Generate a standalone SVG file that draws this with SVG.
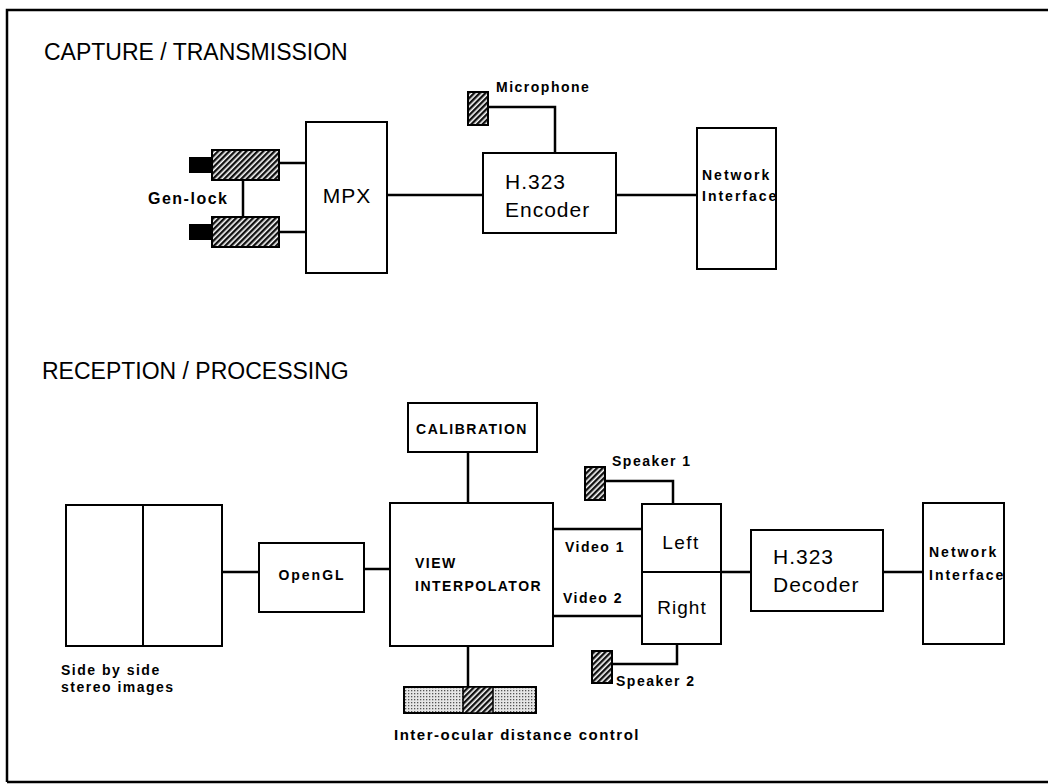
<svg xmlns="http://www.w3.org/2000/svg" width="1048" height="784" viewBox="0 0 1048 784">
<defs>
<pattern id="hatch" patternUnits="userSpaceOnUse" width="4" height="4" patternTransform="rotate(45)">
<rect width="4" height="4" fill="#ffffff"/>
<rect width="2.4" height="4" fill="#111"/>
</pattern>
<pattern id="dots" patternUnits="userSpaceOnUse" width="3" height="3">
<rect width="3" height="3" fill="#e6e6e6"/>
<rect width="1.3" height="1.3" fill="#555"/>
</pattern>
<clipPath id="c1"><rect x="697" y="128" width="79" height="141"/></clipPath>
<clipPath id="c2"><rect x="923" y="503" width="81" height="141"/></clipPath>
<style>
.box{fill:#fff;stroke:#000;stroke-width:2}
.ln{fill:none;stroke:#000;stroke-width:2.5}
.hb{fill:url(#hatch);stroke:#000;stroke-width:2}
.t{font-family:"Liberation Sans",Arial,sans-serif;fill:#000}
.h{font-size:23px}
.m{font-size:21px;letter-spacing:1px}
.s{font-size:14px;font-weight:bold;letter-spacing:1.5px}
.n{font-size:14px;font-weight:bold;letter-spacing:2px}
</style>
</defs>
<rect width="1048" height="784" fill="#fff"/>
<path d="M7,782 V10 H1048 M7,782 H1048" fill="none" stroke="#000" stroke-width="2.5"/>

<text class="t h" x="44" y="60">CAPTURE / TRANSMISSION</text>
<text class="t h" x="42" y="379">RECEPTION / PROCESSING</text>

<g id="connectors">
<path class="ln" d="M279,163 H306"/>
<path class="ln" d="M279,232 H306"/>
<path class="ln" d="M243,180 V217"/>
<path class="ln" d="M387,195 H483"/>
<path class="ln" d="M488,107 H555 V153"/>
<path class="ln" d="M616,195 H697"/>
<path class="ln" d="M222,572 H259"/>
<path class="ln" d="M364,569 H390"/>
<path class="ln" d="M468,452 V503"/>
<path class="ln" d="M468,646 V687"/>
<path class="ln" d="M553,529 H642"/>
<path class="ln" d="M553,616 H642"/>
<path class="ln" d="M605,481 H673 V504"/>
<path class="ln" d="M612,664 H677 V644"/>
<path class="ln" d="M721,572 H751"/>
<path class="ln" d="M883,572 H923"/>
</g>

<g id="camera1">
<rect x="189" y="157" width="23" height="16" fill="#000"/>
<rect class="hb" x="212" y="150" width="67" height="30"/>
</g>
<g id="camera2">
<rect x="189" y="224" width="23" height="16" fill="#000"/>
<rect class="hb" x="212" y="217" width="67" height="30"/>
</g>
<text class="t" x="148" y="204" font-size="16" font-weight="bold" letter-spacing="1.5">Gen-lock</text>

<g id="mpx">
<rect class="box" x="306" y="122" width="81" height="151"/>
<text class="t m" x="347" y="203" text-anchor="middle">MPX</text>
</g>

<g id="microphone">
<rect class="hb" x="468" y="92" width="20" height="33"/>
<text class="t s" x="496" y="92">Microphone</text>
</g>

<g id="encoder">
<rect class="box" x="483" y="153" width="133" height="80"/>
<text class="t m" x="505" y="189">H.323</text>
<text class="t m" x="505" y="217" letter-spacing="1.5">Encoder</text>
</g>

<g id="net1">
<rect class="box" x="697" y="128" width="79" height="141"/>
<g clip-path="url(#c1)">
<text class="t n" x="702" y="180">Network</text>
<text class="t n" x="702" y="201">Interface</text>
</g>
</g>

<g id="stereo">
<rect class="box" x="66" y="505" width="156" height="141"/>
<path d="M143,505 V646" stroke="#000" stroke-width="2"/>
<text class="t s" x="61" y="675" letter-spacing="1">Side by side</text>
<text class="t s" x="61" y="692">stereo images</text>
</g>

<g id="opengl">
<rect class="box" x="259" y="543" width="105" height="69"/>
<text class="t n" x="312" y="580" text-anchor="middle">OpenGL</text>
</g>

<g id="calibration">
<rect class="box" x="408" y="403" width="129" height="49"/>
<text class="t s" x="472" y="434" text-anchor="middle" letter-spacing="1.2">CALIBRATION</text>
</g>

<g id="interpolator">
<rect class="box" x="390" y="503" width="163" height="143"/>
<text class="t s" x="415" y="568" letter-spacing="1.2">VIEW</text>
<text class="t s" x="415" y="591" letter-spacing="1.2">INTERPOLATOR</text>
</g>

<text class="t s" x="565" y="552">Video 1</text>
<text class="t s" x="563" y="603">Video 2</text>

<g id="speaker1">
<rect class="hb" x="585" y="467" width="20" height="33"/>
<text class="t s" x="612" y="466">Speaker 1</text>
</g>

<g id="leftright">
<rect class="box" x="642" y="504" width="79" height="140"/>
<path d="M642,572 H721" stroke="#000" stroke-width="2"/>
<text class="t" x="681" y="549" font-size="19" text-anchor="middle" letter-spacing="1.5">Left</text>
<text class="t" x="682" y="614" font-size="19" text-anchor="middle" letter-spacing="1">Right</text>
</g>

<g id="speaker2">
<rect class="hb" x="592" y="651" width="20" height="32"/>
<text class="t s" x="616" y="686">Speaker 2</text>
</g>

<g id="decoder">
<rect class="box" x="751" y="530" width="132" height="81"/>
<text class="t m" x="773" y="564">H.323</text>
<text class="t m" x="773" y="592" letter-spacing="1.5">Decoder</text>
</g>

<g id="net2">
<rect class="box" x="923" y="503" width="81" height="141"/>
<g clip-path="url(#c2)">
<text class="t n" x="929" y="557">Network</text>
<text class="t n" x="929" y="580">Interface</text>
</g>
</g>

<g id="slider">
<rect x="404" y="687" width="132" height="26" fill="url(#dots)" stroke="#000" stroke-width="2"/>
<rect x="463" y="687" width="30" height="26" fill="url(#hatch)" stroke="#000" stroke-width="1.5"/>
<text class="t" x="394" y="740" font-size="15" font-weight="bold" letter-spacing="1.5">Inter-ocular distance control</text>
</g>
</svg>
